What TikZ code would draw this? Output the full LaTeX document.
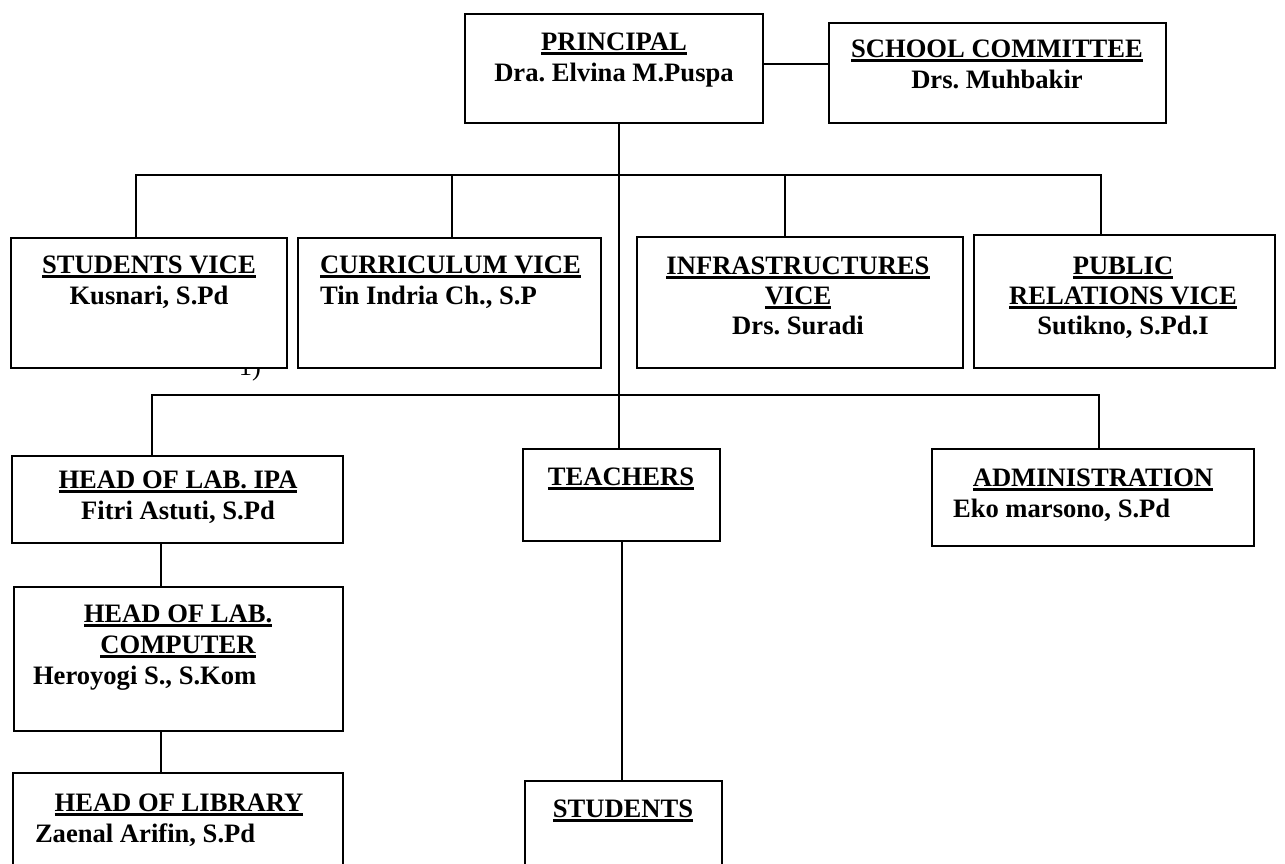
\documentclass[tikz,border=0pt]{standalone}
\usepackage{fontspec}
\setmainfont{Liberation Serif}
\frenchspacing
\newcommand\myul[1]{\setbox0\hbox{#1}\rlap{\rule[-2.4pt]{\wd0}{1.3pt}}\box0}
\newcommand\orgbox[5]{\node[obox, minimum width={(#4-#2)*0.5pt}, minimum height={(#5-#3)*0.5pt}] (#1) at ({(#2+#4)/2},{(#3+#5)/2}) {};}
\newcommand\txtc[4]{\node[txt, anchor=base] (#1) at (#2,#3) {#4};}
\newcommand\txtl[4]{\node[txt, anchor=base west] (#1) at (#2,#3) {#4};}
\begin{document}
\begin{tikzpicture}[x=0.5pt,y=-0.5pt,
  obox/.style={draw, line width=1.1pt, fill=white, inner sep=0pt, outer sep=0pt, rectangle},
  txt/.style={inner sep=0pt, outer sep=0pt, font=\fontsize{13.3}{15.5}\selectfont\bfseries\frenchspacing},
  conn/.style={line width=1.1pt}]
\useasboundingbox (0,0) rectangle (1285,863);
\clip (0,0) rectangle (1285,863);
\node[inner sep=0pt, anchor=base, font=\fontsize{13.3}{15.5}\selectfont] (art) at (250,375) {1)};
\orgbox{principal}{465}{14}{763}{123}
\orgbox{committee}{829}{23}{1166}{123}
\orgbox{sv}{11}{238}{287}{368}
\orgbox{cv}{298}{238}{601}{368}
\orgbox{iv}{637}{237}{963}{368}
\orgbox{pr}{974}{235}{1275}{368}
\orgbox{ipa}{12}{456}{343}{543}
\orgbox{teachers}{523}{449}{720}{541}
\orgbox{adm}{932}{449}{1254}{546}
\orgbox{comp}{14}{587}{343}{731}
\orgbox{lib}{13}{773}{343}{890}
\orgbox{students}{525}{781}{722}{890}
\coordinate (cm) at (0,64);
\coordinate (tr) at (619,0);
\coordinate (b1) at (136,175);
\coordinate (b2) at (452,175);
\coordinate (b3) at (785,175);
\coordinate (b4) at (1101,175);
\coordinate (c1) at (152,395);
\coordinate (c3) at (1099,395);
\coordinate (tt) at (622,0);
\coordinate (lc) at (161,0);
\draw[conn] (principal.east |- cm) -- (committee.west |- cm);
\draw[conn] (tr |- principal.south) -- (tr |- teachers.north);
\draw[conn] (b1 |- sv.north) -- (b1) -- (b4) -- (b4 |- pr.north);
\draw[conn] (b2) -- (b2 |- cv.north);
\draw[conn] (b3) -- (b3 |- iv.north);
\draw[conn] (c1 |- ipa.north) -- (c1) -- (c3) -- (c3 |- adm.north);
\draw[conn] (tt |- teachers.south) -- (tt |- students.north);
\draw[conn] (lc |- ipa.south) -- (lc |- comp.north);
\draw[conn] (lc |- comp.south) -- (lc |- lib.north);
\txtc{tx1}{614}{50}{\myul{PRINCIPAL}}
\txtc{tx2}{614}{81}{Dra. Elvina M.Puspa}
\txtc{tx3}{997}{57}{\myul{SCHOOL COMMITTEE}}
\txtc{tx4}{997}{88}{Drs. Muhbakir}
\txtc{tx5}{149}{273}{\myul{STUDENTS VICE}}
\txtc{tx6}{149}{304}{Kusnari, S.Pd}
\txtl{tx7}{320}{273}{\myul{CURRICULUM VICE}}
\txtl{tx8}{320}{304}{Tin Indria Ch., S.P}
\txtc{tx9}{798}{274}{\myul{INFRASTRUCTURES}}
\txtc{tx10}{798}{304}{\myul{VICE}}
\txtc{tx11}{798}{334}{Drs. Suradi}
\txtc{tx12}{1123}{274}{\myul{PUBLIC}}
\txtc{tx13}{1123}{304}{\myul{RELATIONS VICE}}
\txtc{tx14}{1123}{334}{Sutikno, S.Pd.I}
\txtc{tx15}{178}{488}{\myul{HEAD OF LAB. IPA}}
\txtc{tx16}{178}{519}{Fitri Astuti, S.Pd}
\txtc{tx17}{621}{485}{\myul{TEACHERS}}
\txtc{tx18}{1093}{486}{\myul{ADMINISTRATION}}
\txtl{tx19}{953}{517}{Eko marsono, S.Pd}
\txtc{tx20}{178}{622}{\myul{HEAD OF LAB.}}
\txtc{tx21}{178}{653}{\myul{COMPUTER}}
\txtl{tx22}{33}{684}{Heroyogi S., S.Kom}
\txtc{tx23}{179}{811}{\myul{HEAD OF LIBRARY}}
\txtl{tx24}{35}{842}{Zaenal Arifin, S.Pd}
\txtc{tx25}{623}{817}{\myul{STUDENTS}}
\end{tikzpicture}
\end{document}
